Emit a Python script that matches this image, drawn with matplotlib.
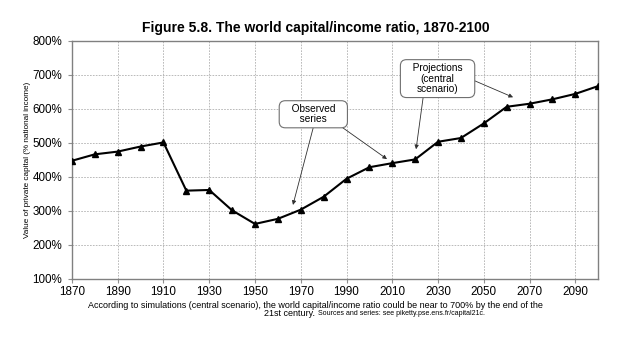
import matplotlib
matplotlib.use("Agg")
import matplotlib.pyplot as plt
from matplotlib.ticker import FuncFormatter

plt.rcParams['font.family'] = ['Liberation Sans', 'DejaVu Sans']

years = [1870, 1880, 1890, 1900, 1910, 1920, 1930, 1940, 1950, 1960, 1970, 1980,
         1990, 2000, 2010, 2020, 2030, 2040, 2050, 2060, 2070, 2080, 2090, 2100]
ratio = [447, 466, 474, 489, 501, 359, 361, 301, 261, 276, 303, 341,
         394, 428, 440, 451, 503, 514, 557, 606, 615, 628, 644, 667]

x_ticks = list(range(1870, 2100, 20))
y_ticks = list(range(100, 900, 100))

title = "Figure 5.8. The world capital/income ratio, 1870-2100"
ylabel = "Value of private capital (% national income)"
caption1 = ("According to simulations (central scenario), the world capital/income ratio "
            "could be near to 700% by the end of the")
caption2a = "21st century."
caption2b = " Sources and series: see piketty.pse.ens.fr/capital21c."

fig = plt.figure(figsize=(6.31, 3.41), dpi=100)
ax = fig.add_axes([0.114, 0.183, 0.834, 0.697])

ax.plot(years, ratio, color='black', lw=1.5, marker='^', markersize=5, zorder=3)

ax.set_xlim(1870, 2100)
ax.set_ylim(100, 800)
ax.set_xticks(x_ticks)
ax.set_yticks(y_ticks)
ax.yaxis.set_major_formatter(FuncFormatter(lambda v, p: f"{int(v)}%"))
ax.grid(True, color='#b0b0b0', linestyle=(0, (2, 1.5)), linewidth=0.6)
ax.tick_params(axis='y', labelsize=8.4, length=3, color='#909090', pad=4)
ax.tick_params(axis='x', labelsize=8.4, length=3, color='#909090', pad=2.5)
for s in ax.spines.values():
    s.set_color('#808080')
    s.set_linewidth(1.0)

ax.set_ylabel(ylabel, fontsize=5.9, labelpad=1)
fig.text(0.5, 0.917, title, ha='center', va='center', fontsize=10, fontweight='bold')

box = dict(boxstyle='round,pad=0.35,rounding_size=0.6', fc='white', ec='#707070', lw=0.8)
arrow = dict(arrowstyle='-|>', color='#303030', lw=0.6, mutation_scale=6,
             shrinkA=0, shrinkB=0)

# Observed series label and arrows
ax.text(1975.5, 584, "   Observed   \n   series   ", fontsize=7.3, ha='center', va='center',
        bbox=box, zorder=5, linespacing=1.0)
ax.annotate("", xy=(1966.6, 317), xytext=(1975.4, 543), arrowprops=arrow, zorder=4)
ax.annotate("", xy=(2007.7, 452), xytext=(1988, 546), arrowprops=arrow, zorder=4)

# Projections label and arrows
ax.text(2029.8, 689, "   Projections   \n(central\nscenario)", fontsize=7.3, ha='center',
        va='center', bbox=box, zorder=5, linespacing=1.05)
ax.annotate("", xy=(2020.4, 481), xytext=(2023.5, 634), arrowprops=arrow, zorder=4)
ax.annotate("", xy=(2062.8, 634), xytext=(2044.5, 687), arrowprops=arrow, zorder=4)

fig.text(0.5, 0.105, caption1, ha='center', va='center', fontsize=6.5)
fig.text(0.5, 0.080, caption2a, ha='right', va='center', fontsize=6.5)
fig.text(0.5, 0.080, caption2b, ha='left', va='center', fontsize=5)

fig.savefig("out.png", dpi=100)
